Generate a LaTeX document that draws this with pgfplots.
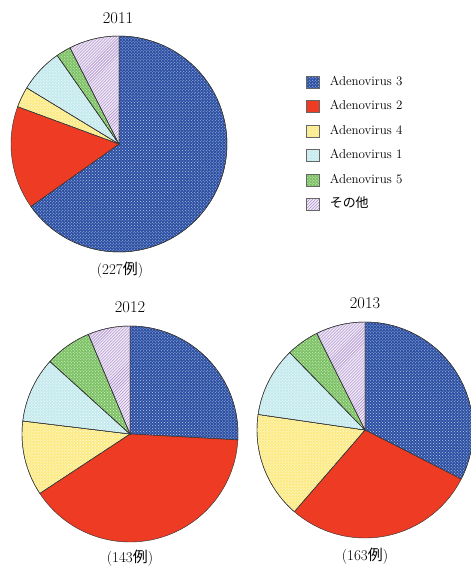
\documentclass[border=0pt]{standalone}
\usepackage{fontspec}
\usepackage{pgfplots}
\pgfplotsset{compat=1.18}
\usepgfplotslibrary{polar}
\usetikzlibrary{patterns}
\newfontfamily\cjk{Noto Sans CJK JP}
\definecolor{cA3}{RGB}{44,80,164}
\definecolor{cA2}{RGB}{238,60,36}
\definecolor{cA4}{RGB}{252,234,130}
\definecolor{cA1}{RGB}{196,234,238}
\definecolor{cA5}{RGB}{124,194,100}
\definecolor{cOth}{RGB}{240,232,246}
\definecolor{cOthL}{RGB}{160,130,196}
\tikzset{
  sA3/.style={fill=cA3, postaction={pattern=crosshatch dots, pattern color=white!70!cA3}},
  sA2/.style={fill=cA2},
  sA4/.style={fill=cA4, postaction={pattern=crosshatch dots, pattern color=white}},
  sA1/.style={fill=cA1, postaction={pattern=crosshatch dots, pattern color=white}},
  sA5/.style={fill=cA5, postaction={pattern=crosshatch dots, pattern color=white!80!cA5}},
  sOth/.style={fill=cOth, postaction={pattern=north east lines, pattern color=cOthL}},
}
% \slice{total}{cumulative before}{cumulative after}{style}
\newcommand\slice[4]{%
  \pgfmathsetmacro\aa{90-360/#1*#3}%
  \pgfmathsetmacro\bb{90-360/#1*#2}%
  \edef\tmp{\noexpand\addplot[#4, draw=black!80, line width=0.45pt, domain=\aa:\bb, samples=90] {1} -- (axis cs:0,0) -- cycle;}\tmp}
\pgfplotsset{
  pie/.style={hide axis, ymin=0, ymax=1, xmin=0, xmax=360, width=216bp, height=216bp,
    scale only axis, clip=false, anchor=center},
}
\begin{document}
\begin{tikzpicture}
\useasboundingbox (0bp,0bp) rectangle (471bp,-566bp);
% 2011: counts (227) A3 148, A2 35, A4 7, A1 15, A5 5, other 17
\begin{polaraxis}[pie, at={(119bp,-144bp)},
  legend style={draw=none, fill=none, at={(1.366,0.82)}, anchor=north west, inner sep=0pt,
    font=\fontsize{13}{15}\selectfont, row sep=10.5bp,
    nodes={text height=8.5bp, text depth=2.5bp, inner ysep=1.5bp},
    /tikz/every odd column/.append style={column sep=8bp}},
  legend cell align=left,
  legend image code/.code={\draw[#1, draw=black!60, line width=0.6pt] (0bp,-6bp) rectangle (13bp,6bp);}]
\slice{227}{0}{148}{sA3}\addlegendentry{Adenovirus 3}
\slice{227}{148}{183}{sA2}\addlegendentry{Adenovirus 2}
\slice{227}{183}{190}{sA4}\addlegendentry{Adenovirus 4}
\slice{227}{190}{205}{sA1}\addlegendentry{Adenovirus 1}
\slice{227}{205}{210}{sA5}\addlegendentry{Adenovirus 5}
\slice{227}{210}{227}{sOth}\addlegendentry{{\cjk その他}}
\end{polaraxis}
% 2012: counts (143) A3 37, A2 57, A4 16, A1 14, A5 10, other 9
\begin{polaraxis}[pie, at={(130bp,-434bp)}]
\slice{143}{0}{37}{sA3}
\slice{143}{37}{94}{sA2}
\slice{143}{94}{110}{sA4}
\slice{143}{110}{124}{sA1}
\slice{143}{124}{134}{sA5}
\slice{143}{134}{143}{sOth}
\end{polaraxis}
% 2013: counts (163) A3 53, A2 47, A4 26, A1 17, A5 8, other 12
\begin{polaraxis}[pie, at={(365bp,-430bp)}]
\slice{163}{0}{53}{sA3}
\slice{163}{53}{100}{sA2}
\slice{163}{100}{126}{sA4}
\slice{163}{126}{143}{sA1}
\slice{163}{143}{151}{sA5}
\slice{163}{151}{163}{sOth}
\end{polaraxis}
\begin{scope}[every node/.style={font=\fontsize{16.5}{18}\selectfont}]
\node at (118bp,-18.5bp) {2011};
\node at (130bp,-307bp) {2012};
\node at (365bp,-303bp) {2013};
\end{scope}
\begin{scope}[every node/.style={font=\fontsize{15}{17}\selectfont}]
\node at (120bp,-270bp) {(227{\cjk 例})};
\node at (130bp,-558bp) {(143{\cjk 例})};
\node at (365bp,-556bp) {(163{\cjk 例})};
\end{scope}
\end{tikzpicture}
\end{document}
